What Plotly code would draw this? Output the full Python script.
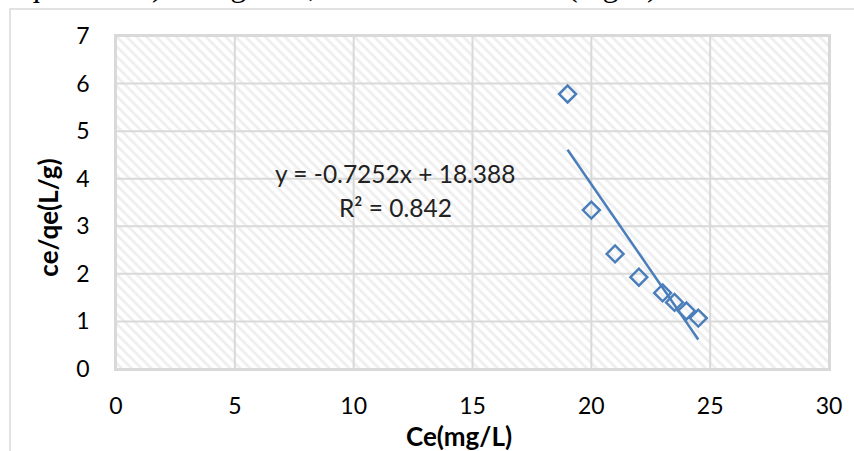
import numpy as np
import plotly.graph_objects as go

ce = [19, 20, 21, 22, 23, 23.5, 24, 24.5]
ce_qe = [5.78, 3.34, 2.42, 1.93, 1.60, 1.40, 1.22, 1.07]
slope = -0.7252
intercept = 18.388
r2 = 0.842
x_ticks = [0, 5, 10, 15, 20, 25, 30]
y_ticks = [0, 1, 2, 3, 4, 5, 6, 7]
x_title = "Ce(mg/L)"
y_title = "ce/qe(L/g)"

W, H = 854, 451
ml, mr, mt, mb = 116, 18, 36, 82
blue = "#4a7ebb"
grid = "#d9d9d9"
font = "Lato"

fig = go.Figure()

# hatched plot background
fig.add_trace(go.Scatter(
    x=[0, 30, 30, 0, 0], y=[0, 0, 7, 7, 0], mode="lines", fill="toself",
    line=dict(width=0), fillcolor="rgba(0,0,0,0)",
    fillpattern=dict(shape="\\", fgcolor="#dedede", bgcolor="white", size=7, solidity=0.4),
    hoverinfo="skip", showlegend=False))

# gridlines above the hatch
gx, gy = [], []
for t in x_ticks:
    gx += [t, t, None]; gy += [0, 7, None]
for t in y_ticks:
    gx += [0, 30, None]; gy += [t, t, None]
fig.add_trace(go.Scatter(x=gx, y=gy, mode="lines", line=dict(color=grid, width=2),
                         hoverinfo="skip", showlegend=False))

tx = np.array([min(ce), max(ce)])
fig.add_trace(go.Scatter(x=tx, y=slope * tx + intercept, mode="lines",
                         line=dict(color=blue, width=2.5), showlegend=False))
fig.add_trace(go.Scatter(x=ce, y=ce_qe, mode="markers",
                         marker=dict(symbol="diamond-open", size=13, color=blue,
                                     line=dict(color=blue, width=2.5)),
                         showlegend=False))

fig.add_annotation(x=11.75, y=4.12, text=f"y = {slope}x + {intercept}", showarrow=False,
                   font=dict(family=font, size=24.5, color="#222"))
fig.add_annotation(x=11.75, y=3.40, text=f"R² = {r2}", showarrow=False,
                   font=dict(family=font, size=24.5, color="#222"))

def px(xp):
    return (xp - ml) / (W - ml - mr)
def py(yp):
    return (H - mb - yp) / (H - mt - mb)

# axis titles
fig.add_annotation(xref="paper", yref="paper", x=px(462), y=py(436), xanchor="center",
                   yanchor="middle", text=f"<b>{x_title}</b>", showarrow=False,
                   font=dict(family=font, size=26, color="black"))
fig.add_annotation(xref="paper", yref="paper", x=px(47), y=py(218), xanchor="center",
                   yanchor="middle", text=f"<b>{y_title}</b>", showarrow=False, textangle=-90,
                   font=dict(family=font, size=26, color="black"))

# clipped document text at top
fig.add_annotation(xref="paper", yref="paper", x=px(-2), xanchor="left",
                   y=py(-15), yanchor="middle",
                   text="e/qe and Ce) is negative, where increase Ce (mg/L) lead to decreas",
                   showarrow=False, font=dict(family="Liberation Serif", size=32, color="black"))

# outer chart border
fig.add_shape(type="rect", xref="paper", yref="paper", x0=px(9), x1=px(870), y0=py(9), y1=py(470),
              line=dict(color="#d9d9d9", width=1.5), fillcolor="rgba(0,0,0,0)", layer="below")

fig.update_layout(
    width=W, height=H, margin=dict(l=ml, r=mr, t=mt, b=mb),
    paper_bgcolor="white", plot_bgcolor="white",
    font=dict(family=font, color="black"),
    xaxis=dict(range=[0, 30], tickvals=x_ticks, showgrid=False,
               zeroline=False, showline=True, linecolor=grid, linewidth=1.5, mirror=True,
               ticks="outside", ticklen=16, tickcolor="rgba(0,0,0,0)",
               tickfont=dict(size=23)),
    yaxis=dict(range=[0, 7], tickvals=y_ticks, showgrid=False,
               zeroline=False, showline=True, linecolor=grid, linewidth=1.5, mirror=True,
               ticks="outside", ticklen=20, tickcolor="rgba(0,0,0,0)",
               tickfont=dict(size=23)),
)

fig.write_html("out.html")
